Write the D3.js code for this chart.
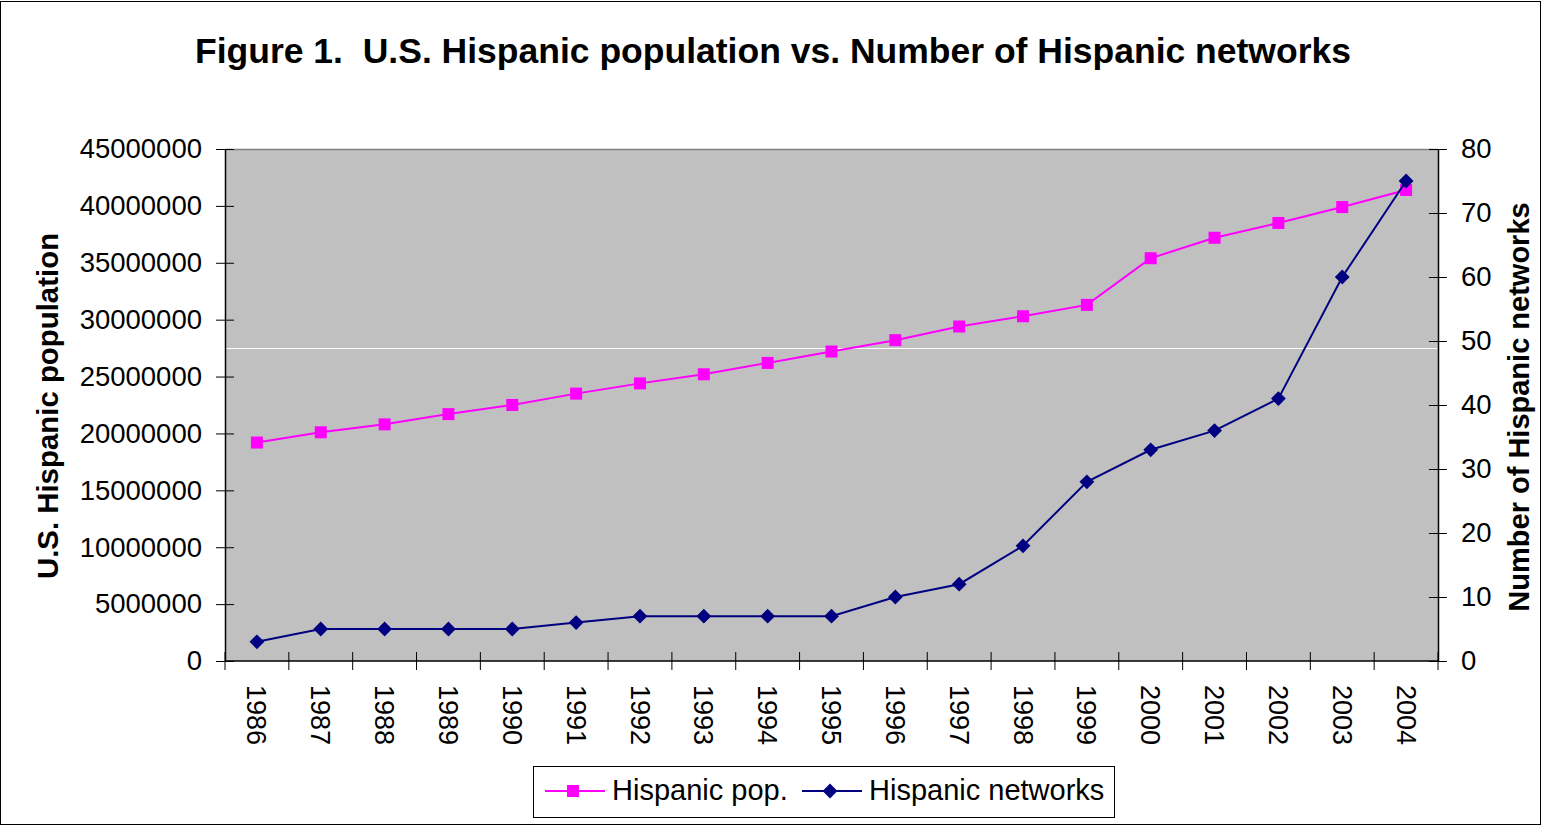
<!DOCTYPE html>
<html><head><meta charset="utf-8">
<script src="https://cdn.jsdelivr.net/npm/d3@7"></script>
<style>html,body{margin:0;padding:0;background:#fff}svg{display:block}</style>
</head><body>
<script>
const years = ["1986","1987","1988","1989","1990","1991","1992","1993","1994","1995","1996","1997","1998","1999","2000","2001","2002","2003","2004"];
const hispanicPop = [19200000,20100000,20800000,21700000,22500000,23500000,24400000,25200000,26200000,27200000,28200000,29400000,30300000,31300000,35400000,37200000,38500000,39900000,41400000];
const hispanicNetworks = [3,5,5,5,5,6,7,7,7,7,10,12,18,28,33,36,41,60,75];
const leftTicks = [0,5000000,10000000,15000000,20000000,25000000,30000000,35000000,40000000,45000000];
const rightTicks = [0,10,20,30,40,50,60,70,80];
const artifactLine = [27500000];

const W = 1543, H = 825;
const m = {left:225, right:1438, top:149, bottom:661};
const font = "Liberation Sans, Arial, sans-serif";

const svg = d3.select("body").append("svg").attr("width",W).attr("height",H)
  .style("font-family",font);

svg.append("rect").attr("x",0.5).attr("y",1.5).attr("width",W-3).attr("height",H-2)
  .attr("fill","#fff").attr("stroke","#000").attr("stroke-width",1);

const x = d3.scaleBand().domain(years).range([m.left,m.right]);
const yL = d3.scaleLinear().domain([0,45000000]).range([m.bottom,m.top]);
const yR = d3.scaleLinear().domain([0,80]).range([m.bottom,m.top]);

svg.append("rect").attr("x",m.left).attr("y",m.top).attr("width",m.right-m.left).attr("height",m.bottom-m.top)
  .attr("fill","#c0c0c0");
svg.append("line").attr("x1",m.left).attr("x2",m.right).attr("y1",m.top+0.5).attr("y2",m.top+0.5)
  .attr("stroke","#808080").attr("stroke-width",1.5);

svg.selectAll("line.art").data(artifactLine).join("line").attr("class","art")
  .attr("x1",m.left+1).attr("x2",m.right-1)
  .attr("y1",d=>Math.round(yL(d))+0.5).attr("y2",d=>Math.round(yL(d))+0.5)
  .attr("stroke","#fff").attr("stroke-width",1);

// Axes
const axL = svg.append("g").attr("transform",`translate(${m.left},0)`)
  .call(d3.axisLeft(yL).tickValues(leftTicks).tickFormat(d3.format("d")).tickSizeInner(9).tickSizeOuter(0).tickPadding(14));
const axR = svg.append("g").attr("transform",`translate(${m.right},0)`)
  .call(d3.axisRight(yR).tickValues(rightTicks).tickSizeInner(9).tickSizeOuter(0).tickPadding(14));
[axL,axR].forEach(a=>{
  a.select(".domain").attr("stroke","#000").attr("stroke-width",1.5);
  a.selectAll(".tick line").attr("stroke","#000").attr("stroke-width",1);
  a.selectAll("text").attr("font-size",27.5).attr("font-family",font).attr("fill","#000");
});
// crossing ticks
axL.selectAll(".tick line").attr("x1",9);
axR.selectAll(".tick line").attr("x1",-9);

const bounds = years.map(d=>x(d)).concat([m.right]);
svg.append("line").attr("x1",m.left).attr("x2",m.right).attr("y1",m.bottom).attr("y2",m.bottom)
  .attr("stroke","#000").attr("stroke-width",1.5);
svg.selectAll("line.xt").data(bounds).join("line").attr("class","xt")
  .attr("x1",d=>d).attr("x2",d=>d).attr("y1",m.bottom-9).attr("y2",m.bottom+9)
  .attr("stroke","#000").attr("stroke-width",1);
svg.selectAll("text.xl").data(years).join("text").attr("class","xl")
  .attr("transform",d=>`translate(${x(d)+x.bandwidth()/2},${m.bottom+24}) rotate(90)`)
  .attr("dy","0.35em").attr("font-size",27).attr("fill","#000").text(d=>d);

// Lines
const cx = d=>x(d)+x.bandwidth()/2;
svg.append("path").datum(years)
  .attr("d",d3.line().x(cx).y((d,i)=>yL(hispanicPop[i])))
  .attr("fill","none").attr("stroke","#ff00ff").attr("stroke-width",2);
svg.selectAll("rect.pm").data(years).join("rect").attr("class","pm")
  .attr("x",d=>cx(d)-6).attr("y",(d,i)=>yL(hispanicPop[i])-6).attr("width",12).attr("height",12)
  .attr("fill","#ff00ff");

svg.append("path").datum(years)
  .attr("d",d3.line().x(cx).y((d,i)=>yR(hispanicNetworks[i])))
  .attr("fill","none").attr("stroke","#000080").attr("stroke-width",2);
const diamond = d3.symbol().type(d3.symbolSquare).size(110);
svg.selectAll("path.nm").data(years).join("path").attr("class","nm")
  .attr("d",diamond)
  .attr("transform",(d,i)=>`translate(${cx(d)},${yR(hispanicNetworks[i])}) rotate(45)`)
  .attr("fill","#000080");

// Title
svg.append("text").attr("x",773).attr("y",63).attr("text-anchor","middle")
  .attr("font-size",35.5).attr("font-weight","bold").attr("fill","#000")
  .style("white-space","pre")
  .text("Figure 1.  U.S. Hispanic population vs. Number of Hispanic networks");

// Axis titles
svg.append("text").attr("transform",`translate(58,406) rotate(-90)`).attr("text-anchor","middle")
  .attr("font-size",29.4).attr("font-weight","bold").attr("fill","#000").text("U.S. Hispanic population");
svg.append("text").attr("transform",`translate(1529,407) rotate(-90)`).attr("text-anchor","middle")
  .attr("font-size",29).attr("font-weight","bold").attr("fill","#000").text("Number of Hispanic networks");

// Legend
const lg = svg.append("g");
lg.append("rect").attr("x",533.5).attr("y",766.5).attr("width",581).attr("height",51)
  .attr("fill","#fff").attr("stroke","#000").attr("stroke-width",1);
const legendItems = [
  {name:"Hispanic pop.", color:"#ff00ff", shape:"square", x0:545},
  {name:"Hispanic networks", color:"#000080", shape:"diamond", x0:802}
];
legendItems.forEach(it=>{
  lg.append("line").attr("x1",it.x0).attr("x2",it.x0+60).attr("y1",791).attr("y2",791)
    .attr("stroke",it.color).attr("stroke-width",2);
  if(it.shape==="square"){
    lg.append("rect").attr("x",it.x0+22).attr("y",785).attr("width",12).attr("height",12).attr("fill",it.color);
  } else {
    lg.append("path").attr("d",diamond).attr("transform",`translate(${it.x0+28},791) rotate(45)`).attr("fill",it.color);
  }
  lg.append("text").attr("x",it.x0+67).attr("y",790).attr("dy","0.35em").attr("font-size",29)
    .attr("fill","#000").text(it.name);
});
</script>
</body></html>
